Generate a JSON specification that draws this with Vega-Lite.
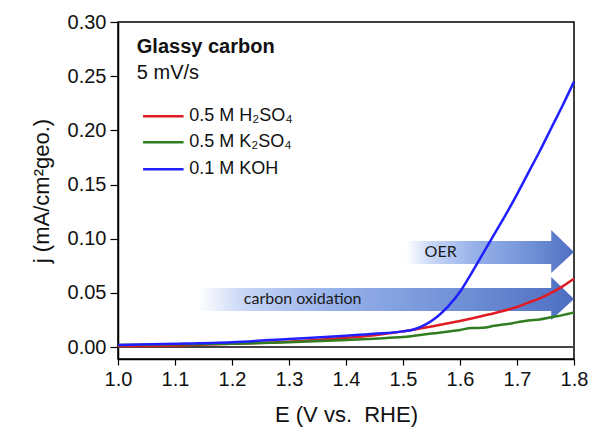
{
  "$schema": "https://vega.github.io/schema/vega-lite/v6.json",
  "width": 456,
  "height": 337,
  "autosize": {"type": "none"},
  "padding": {"left": 118, "top": 22, "right": 16, "bottom": 68},
  "background": "white",
  "config": {
    "view": {"stroke": "black", "strokeWidth": 1.5},
    "font": "Liberation Sans",
    "axis": {
      "grid": false,
      "domainColor": "black",
      "domainWidth": 1.5,
      "tickColor": "black",
      "tickWidth": 1.2,
      "labelFont": "Liberation Sans",
      "titleFont": "Liberation Sans",
      "labelColor": "#111",
      "titleColor": "#111",
      "titleFontWeight": "normal"
    }
  },
  "datasets": {
    "curves": [
      {"E": 1.00, "j": 0.0010, "s": "H2SO4"},
      {"E": 1.10, "j": 0.0015, "s": "H2SO4"},
      {"E": 1.20, "j": 0.0030, "s": "H2SO4"},
      {"E": 1.30, "j": 0.0050, "s": "H2SO4"},
      {"E": 1.40, "j": 0.0085, "s": "H2SO4"},
      {"E": 1.45, "j": 0.0110, "s": "H2SO4"},
      {"E": 1.50, "j": 0.0145, "s": "H2SO4"},
      {"E": 1.55, "j": 0.0190, "s": "H2SO4"},
      {"E": 1.60, "j": 0.0240, "s": "H2SO4"},
      {"E": 1.65, "j": 0.0300, "s": "H2SO4"},
      {"E": 1.70, "j": 0.0370, "s": "H2SO4"},
      {"E": 1.72, "j": 0.0410, "s": "H2SO4"},
      {"E": 1.74, "j": 0.0450, "s": "H2SO4"},
      {"E": 1.76, "j": 0.0500, "s": "H2SO4"},
      {"E": 1.78, "j": 0.0560, "s": "H2SO4"},
      {"E": 1.80, "j": 0.0630, "s": "H2SO4"},
      {"E": 1.00, "j": 0.0020, "s": "K2SO4"},
      {"E": 1.10, "j": 0.0025, "s": "K2SO4"},
      {"E": 1.20, "j": 0.0030, "s": "K2SO4"},
      {"E": 1.30, "j": 0.0045, "s": "K2SO4"},
      {"E": 1.40, "j": 0.0065, "s": "K2SO4"},
      {"E": 1.45, "j": 0.0078, "s": "K2SO4"},
      {"E": 1.50, "j": 0.0092, "s": "K2SO4"},
      {"E": 1.55, "j": 0.0125, "s": "K2SO4"},
      {"E": 1.60, "j": 0.0158, "s": "K2SO4"},
      {"E": 1.62, "j": 0.0176, "s": "K2SO4"},
      {"E": 1.64, "j": 0.0178, "s": "K2SO4"},
      {"E": 1.66, "j": 0.0196, "s": "K2SO4"},
      {"E": 1.68, "j": 0.0210, "s": "K2SO4"},
      {"E": 1.70, "j": 0.0228, "s": "K2SO4"},
      {"E": 1.72, "j": 0.0245, "s": "K2SO4"},
      {"E": 1.74, "j": 0.0255, "s": "K2SO4"},
      {"E": 1.76, "j": 0.0275, "s": "K2SO4"},
      {"E": 1.78, "j": 0.0295, "s": "K2SO4"},
      {"E": 1.80, "j": 0.0320, "s": "K2SO4"},
      {"E": 1.00, "j": 0.0020, "s": "KOH"},
      {"E": 1.10, "j": 0.0030, "s": "KOH"},
      {"E": 1.20, "j": 0.0045, "s": "KOH"},
      {"E": 1.30, "j": 0.0075, "s": "KOH"},
      {"E": 1.40, "j": 0.0105, "s": "KOH"},
      {"E": 1.45, "j": 0.0122, "s": "KOH"},
      {"E": 1.50, "j": 0.0145, "s": "KOH"},
      {"E": 1.52, "j": 0.0165, "s": "KOH"},
      {"E": 1.54, "j": 0.0210, "s": "KOH"},
      {"E": 1.56, "j": 0.0280, "s": "KOH"},
      {"E": 1.58, "j": 0.0380, "s": "KOH"},
      {"E": 1.60, "j": 0.0510, "s": "KOH"},
      {"E": 1.62, "j": 0.0680, "s": "KOH"},
      {"E": 1.64, "j": 0.0860, "s": "KOH"},
      {"E": 1.66, "j": 0.1040, "s": "KOH"},
      {"E": 1.68, "j": 0.1220, "s": "KOH"},
      {"E": 1.70, "j": 0.1410, "s": "KOH"},
      {"E": 1.72, "j": 0.1610, "s": "KOH"},
      {"E": 1.74, "j": 0.1810, "s": "KOH"},
      {"E": 1.76, "j": 0.2020, "s": "KOH"},
      {"E": 1.78, "j": 0.2230, "s": "KOH"},
      {"E": 1.80, "j": 0.2450, "s": "KOH"}
    ],
    "carbonArrow": [
      {"E": 1.14, "top": 0.0545, "bot": 0.0332},
      {"E": 1.76, "top": 0.0545, "bot": 0.0332},
      {"E": 1.7601, "top": 0.0646, "bot": 0.0249},
      {"E": 1.80, "top": 0.0443, "bot": 0.0443}
    ],
    "oerArrow": [
      {"E": 1.505, "top": 0.098, "bot": 0.0766},
      {"E": 1.76, "top": 0.098, "bot": 0.0766},
      {"E": 1.7601, "top": 0.108, "bot": 0.0683},
      {"E": 1.80, "top": 0.0877, "bot": 0.0877}
    ],
    "legend": [
      {"s": "H2SO4", "label": "0.5 M H₂SO₄", "x1": 1.044, "x2": 1.115, "xt": 1.125, "j": 0.213},
      {"s": "K2SO4", "label": "0.5 M K₂SO₄", "x1": 1.044, "x2": 1.115, "xt": 1.125, "j": 0.189},
      {"s": "KOH", "label": "0.1 M KOH", "x1": 1.044, "x2": 1.115, "xt": 1.125, "j": 0.164}
    ],
    "arrowText": [
      {"text": "OER", "E": 1.566, "j": 0.0877},
      {"text": "carbon oxidation", "E": 1.324, "j": 0.0440}
    ]
  },
  "layer": [
    {
      "data": {"name": "carbonArrow"},
      "mark": {
        "type": "area",
        "color": {
          "gradient": "linear",
          "x1": 0, "y1": 0, "x2": 1, "y2": 0,
          "stops": [
            {"offset": 0, "color": "#ffffff"},
            {"offset": 0.12, "color": "#c9d7f6"},
            {"offset": 0.35, "color": "#98b2ea"},
            {"offset": 0.7, "color": "#7090d6"},
            {"offset": 1, "color": "#4e6ec2"}
          ]
        }
      },
      "encoding": {
        "x": {"field": "E", "type": "quantitative"},
        "y": {"field": "top", "type": "quantitative"},
        "y2": {"field": "bot"}
      }
    },
    {
      "data": {"name": "oerArrow"},
      "mark": {
        "type": "area",
        "color": {
          "gradient": "linear",
          "x1": 0, "y1": 0, "x2": 1, "y2": 0,
          "stops": [
            {"offset": 0, "color": "#ffffff"},
            {"offset": 0.15, "color": "#c9d7f6"},
            {"offset": 0.4, "color": "#98b2ea"},
            {"offset": 0.75, "color": "#7090d6"},
            {"offset": 1, "color": "#4e6ec2"}
          ]
        }
      },
      "encoding": {
        "x": {"field": "E", "type": "quantitative"},
        "y": {"field": "top", "type": "quantitative"},
        "y2": {"field": "bot"}
      }
    },
    {
      "data": {"name": "arrowText"},
      "mark": {"type": "text", "font": "Lato", "fontSize": 16, "color": "#1a1a1a", "align": "center", "baseline": "middle"},
      "encoding": {
        "x": {"field": "E", "type": "quantitative"},
        "y": {"field": "j", "type": "quantitative"},
        "text": {"field": "text"}
      }
    },
    {
      "data": {"values": [{}]},
      "mark": {"type": "rule", "color": "#444444", "strokeWidth": 2},
      "encoding": {"y": {"datum": 0}}
    },
    {
      "data": {"name": "curves"},
      "mark": {"type": "line", "strokeWidth": 2.5, "interpolate": "monotone"},
      "encoding": {
        "x": {
          "field": "E", "type": "quantitative",
          "scale": {"domain": [1.0, 1.8], "nice": false, "zero": false},
          "axis": {
            "title": "E (V vs.\u00a0 RHE)",
            "titleFontSize": 22,
            "titlePadding": 15,
            "labelFontSize": 20,
            "labelPadding": 4,
            "values": [1.0, 1.05, 1.1, 1.15, 1.2, 1.25, 1.3, 1.35, 1.4, 1.45, 1.5, 1.55, 1.6, 1.65, 1.7, 1.75, 1.8],
            "labelExpr": "round(datum.value*100) % 10 == 0 ? format(datum.value, '.1f') : ''",
            "tickSize": {"condition": {"test": "round(datum.value*100) % 10 == 0", "value": 6}, "value": 3},
            "labelFlush": false,
            "labelOverlap": false
          }
        },
        "y": {
          "field": "j", "type": "quantitative",
          "scale": {"domain": [-0.011, 0.3], "nice": false, "zero": false},
          "axis": {
            "title": "j (mA/cm²geo.)",
            "titleFontSize": 22,
            "titlePadding": 14,
            "labelFontSize": 20,
            "labelPadding": 4,
            "values": [0, 0.025, 0.05, 0.075, 0.1, 0.125, 0.15, 0.175, 0.2, 0.225, 0.25, 0.275, 0.3],
            "labelExpr": "round(datum.value*1000) % 50 == 0 ? format(datum.value, '.2f') : ''",
            "tickSize": {"condition": {"test": "round(datum.value*1000) % 50 == 0", "value": 8}, "value": 4},
            "labelFlush": false,
            "labelOverlap": false
          }
        },
        "color": {
          "field": "s", "type": "nominal",
          "scale": {"domain": ["H2SO4", "K2SO4", "KOH"], "range": ["#e01b24", "#2f7d1e", "#1f1fff"]},
          "legend": null
        }
      }
    },
    {
      "data": {"name": "legend"},
      "mark": {"type": "rule", "strokeWidth": 2.5},
      "encoding": {
        "x": {"field": "x1", "type": "quantitative"},
        "x2": {"field": "x2"},
        "y": {"field": "j", "type": "quantitative"},
        "color": {"field": "s", "type": "nominal", "legend": null}
      }
    },
    {
      "data": {"name": "legend"},
      "mark": {"type": "text", "align": "left", "baseline": "middle", "fontSize": 18, "color": "#111"},
      "encoding": {
        "x": {"field": "xt", "type": "quantitative"},
        "y": {"field": "j", "type": "quantitative"},
        "text": {"field": "label"}
      }
    },
    {
      "data": {"values": [{"text": "Glassy carbon", "E": 1.033, "j": 0.277}]},
      "mark": {"type": "text", "align": "left", "baseline": "middle", "fontSize": 20, "fontWeight": "bold", "color": "#111"},
      "encoding": {
        "x": {"field": "E", "type": "quantitative"},
        "y": {"field": "j", "type": "quantitative"},
        "text": {"field": "text"}
      }
    },
    {
      "data": {"values": [{"text": "5 mV/s", "E": 1.033, "j": 0.253}]},
      "mark": {"type": "text", "align": "left", "baseline": "middle", "fontSize": 20, "color": "#111"},
      "encoding": {
        "x": {"field": "E", "type": "quantitative"},
        "y": {"field": "j", "type": "quantitative"},
        "text": {"field": "text"}
      }
    }
  ]
}
